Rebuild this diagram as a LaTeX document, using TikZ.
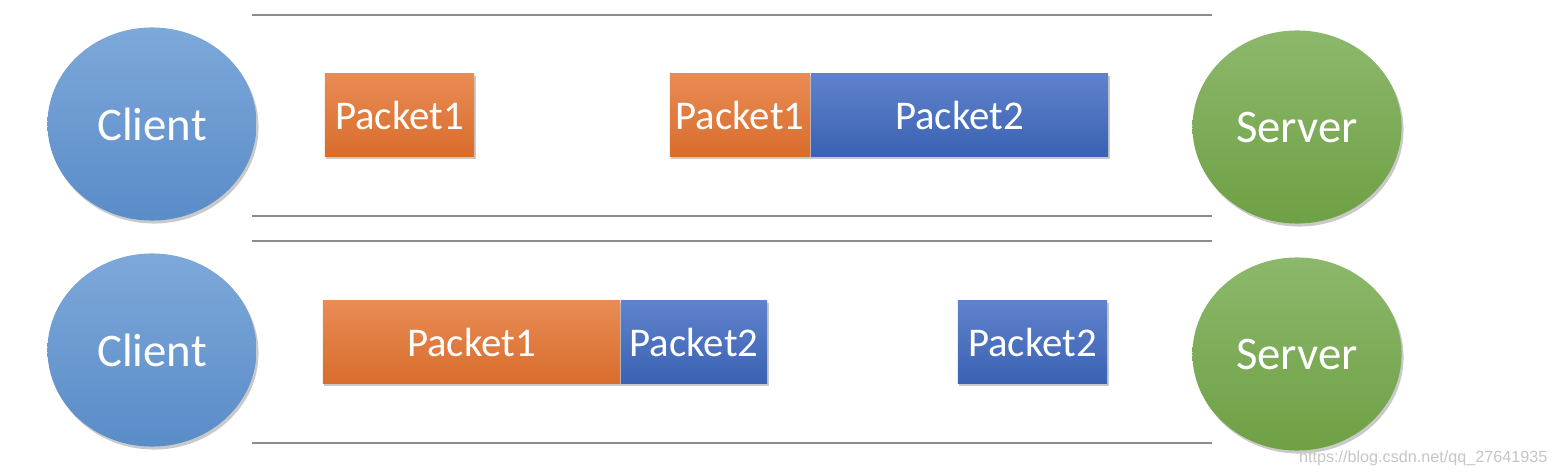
\documentclass[tikz,border=0pt]{standalone}
\usepackage{fontspec}
\setmainfont{Carlito}
\newfontfamily\wmfont{Liberation Sans}
\usetikzlibrary{shadings,shadows,shapes.geometric}
\definecolor{cbtop}{HTML}{7DA8DA}
\definecolor{cbbot}{HTML}{5A8CC8}
\definecolor{sgtop}{HTML}{8DB86C}
\definecolor{sgbot}{HTML}{6EA044}
\definecolor{ortop}{HTML}{E98B55}
\definecolor{orbot}{HTML}{D86D2C}
\definecolor{bltop}{HTML}{5F82CB}
\definecolor{blbot}{HTML}{3A62B3}
\definecolor{lane}{HTML}{8C8C8C}
\tikzset{
  endpt/.style={ellipse, minimum width=2.09cm, minimum height=1.93cm, inner sep=0pt,
    text=white, font=\fontsize{13.3}{15}\selectfont,
    drop shadow={shadow xshift=0.02cm, shadow yshift=-0.03cm, opacity=0.35, fill=black!60}},
  client/.style={endpt, top color=cbtop, bottom color=cbbot},
  server/.style={endpt, top color=sgtop, bottom color=sgbot},
  pkt/.style={rectangle, minimum height=0.82cm, inner sep=0pt, text=white,
    font=\fontsize{11.6}{14}\selectfont,
    drop shadow={shadow xshift=0.015cm, shadow yshift=-0.025cm, opacity=0.35, fill=black!60}},
  opkt/.style={pkt, top color=ortop, bottom color=orbot},
  bpkt/.style={pkt, top color=bltop, bottom color=blbot},
  laneline/.style={draw=lane, line width=0.6pt},
}
\begin{document}
\begin{tikzpicture}[x=0.01cm, y=-0.01cm]
\useasboundingbox (0,0) rectangle (1558,476);
\fill[white] (0,0) rectangle (1558,476);
% lane lines
\coordinate (l1a) at (252,15);  \coordinate (l1b) at (1212,15);
\coordinate (l2a) at (252,216); \coordinate (l2b) at (1212,216);
\coordinate (l3a) at (252,241); \coordinate (l3b) at (1212,241);
\coordinate (l4a) at (252,443); \coordinate (l4b) at (1212,443);
\draw[laneline] (l1a) -- (l1b);
\draw[laneline] (l2a) -- (l2b);
\draw[laneline] (l3a) -- (l3b);
\draw[laneline] (l4a) -- (l4b);
% endpoints
\node[client] (c1) at (152,124) {Client};
\node[client] (c2) at (152,350) {Client};
\node[server] (s1) at (1297,127) {Server};
\node[server] (s2) at (1297,354) {Server};
% top row packets
\node[opkt, minimum width=1.49cm] (t1) at (399.5,115) {Packet1};
\node[opkt, minimum width=1.40cm] (t2) at (740,115) {Packet1};
\node[bpkt, minimum width=2.97cm] (t3) at (959.5,115) {Packet2};
% bottom row packets
\node[opkt, minimum width=2.97cm] (b1) at (471.5,342) {Packet1};
\node[bpkt, minimum width=1.46cm] (b2) at (694,342) {Packet2};
\node[bpkt, minimum width=1.49cm] (b3) at (1032.5,342) {Packet2};
% watermark
\node[anchor=east, inner sep=0pt, text=gray!45, font=\wmfont\fontsize{4.6}{5}\selectfont] (wm) at (1548,458) {https://blog.csdn.net/qq\_27641935};
\end{tikzpicture}
\end{document}
